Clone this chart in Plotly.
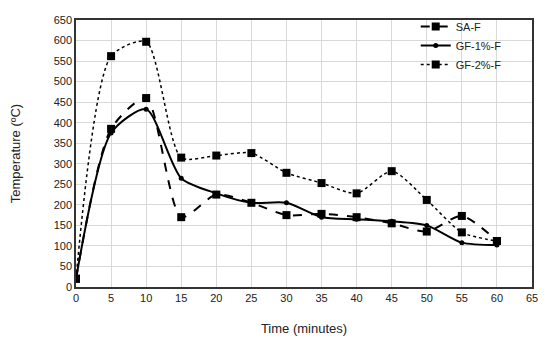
import plotly.graph_objects as go

time = [0, 5, 10, 15, 20, 25, 30, 35, 40, 45, 50, 55, 60]
sa_f = [20, 385, 460, 170, 225, 205, 175, 178, 170, 155, 135, 173, 112]
gf1_f = [20, 375, 433, 265, 228, 205, 205, 170, 165, 160, 150, 108, 102]
gf2_f = [20, 562, 597, 315, 320, 326, 278, 253, 228, 282, 212, 133, 112]

fig = go.Figure()
fig.add_trace(go.Scatter(x=time, y=sa_f, name="SA-F", mode="lines+markers",
                         line=dict(color="black", width=2, dash="dash", shape="spline", smoothing=0.7),
                         marker=dict(symbol="square", size=8, color="black")))
fig.add_trace(go.Scatter(x=time, y=gf1_f, name="GF-1%-F", mode="lines+markers",
                         line=dict(color="black", width=2, shape="spline", smoothing=0.7),
                         marker=dict(symbol="circle", size=5, color="black")))
fig.add_trace(go.Scatter(x=time, y=gf2_f, name="GF-2%-F", mode="lines+markers",
                         line=dict(color="black", width=1.5, dash="dot", shape="spline", smoothing=0.7),
                         marker=dict(symbol="square", size=8, color="black")))

fig.update_layout(
    width=550, height=342,
    margin=dict(l=68, r=26, t=4, b=63),
    paper_bgcolor="white", plot_bgcolor="white",
    font=dict(family="Liberation Sans, Arial, sans-serif", size=11, color="#222"),
    showlegend=True,
    legend=dict(x=0.745, y=1.03, xanchor="left", yanchor="top", bgcolor="rgba(0,0,0,0)",
                font=dict(size=11), tracegroupgap=0, itemwidth=30),
    xaxis=dict(range=[0, 65], dtick=5, showgrid=True, gridcolor="#d9d9d9", gridwidth=1,
               showline=True, linecolor="#333", linewidth=1.5, mirror=True, zeroline=False,
               ticks="", automargin=False, ticklabeloverflow="allow",
               title=dict(text="Time (minutes)", standoff=21)),
    yaxis=dict(range=[0, 650], dtick=50, showgrid=True, gridcolor="#d9d9d9", gridwidth=1,
               showline=True, linecolor="#333", linewidth=1.5, mirror=True, zeroline=False,
               ticks="", automargin=False, ticklabeloverflow="allow",
               title=dict(text="Temperature (ºC)", standoff=35)),
)
fig.write_html("out.html")
